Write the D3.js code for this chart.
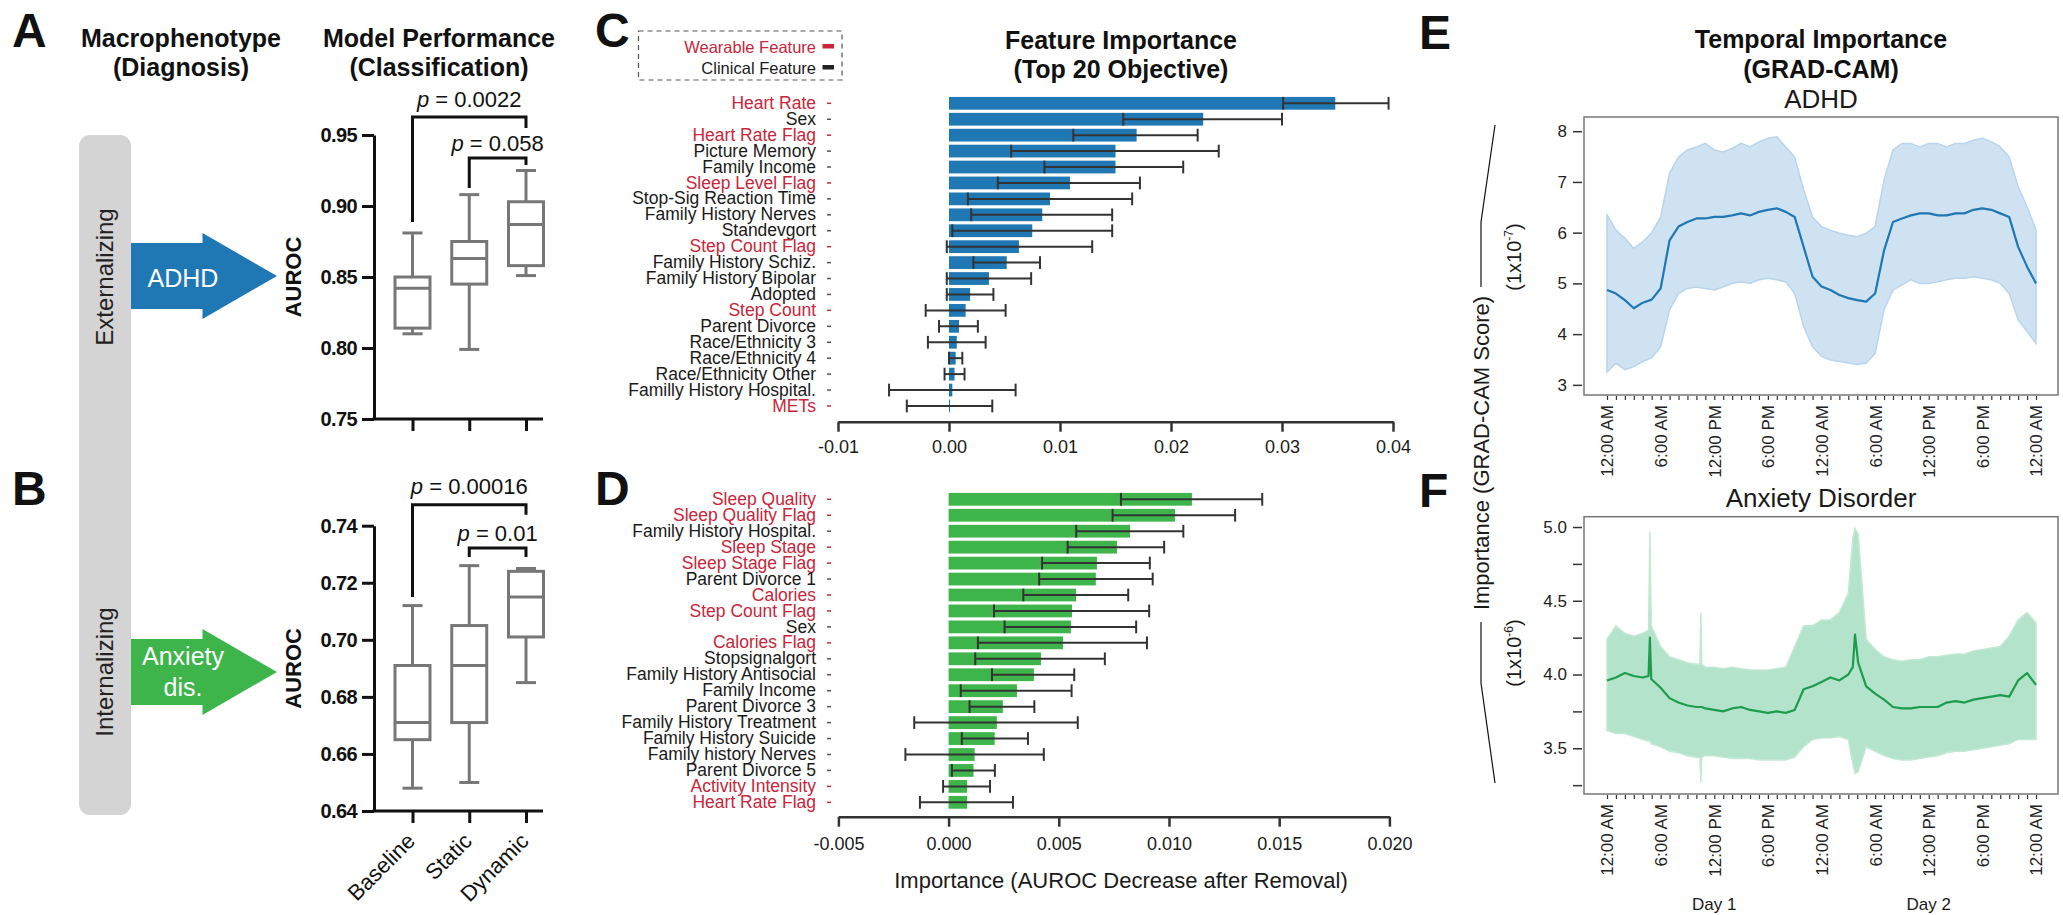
<!DOCTYPE html>
<html>
<head>
<meta charset="utf-8">
<script src="https://cdn.jsdelivr.net/npm/d3@7"></script>
<style>
body { margin: 0; background: #fff; }
svg { display: block; }
</style>
</head>
<body>
<div class="chart"></div>
<script>
// ---------- data ----------
var boxGroups = ["Baseline", "Static", "Dynamic"];
// [whisker low, q1, median, q3, whisker high]
var adhdBoxes = [[0.810, 0.814, 0.842, 0.850, 0.881],
                 [0.799, 0.845, 0.863, 0.875, 0.908],
                 [0.851, 0.858, 0.887, 0.903, 0.925]];
var anxBoxes = [[0.648, 0.665, 0.671, 0.691, 0.712],
                [0.650, 0.671, 0.691, 0.705, 0.726],
                [0.685, 0.701, 0.715, 0.724, 0.725]];
var adhdTicks = [0.75, 0.80, 0.85, 0.90, 0.95];
var anxTicks = [0.64, 0.66, 0.68, 0.70, 0.72, 0.74];
var adhdP = ["0.0022", "0.058"];
var anxP = ["0.00016", "0.01"];

var cFeatures = ["Heart Rate", "Sex", "Heart Rate Flag", "Picture Memory", "Family Income",
  "Sleep Level Flag", "Stop-Sig Reaction Time", "Family History Nerves", "Standevgort",
  "Step Count Flag", "Family History Schiz.", "Family History Bipolar", "Adopted", "Step Count",
  "Parent Divorce", "Race/Ethnicity 3", "Race/Ethnicity 4", "Race/Ethnicity Other",
  "Familly History Hospital.", "METs"];
var cWearable = [1,0,1,0,0,1,0,0,0,1,0,0,0,1,0,0,0,0,0,1];
var cImportance = [0.0348, 0.0229, 0.0169, 0.0150, 0.0150, 0.0109, 0.0091, 0.0084, 0.0075, 0.0063,
  0.0052, 0.0036, 0.0019, 0.0015, 0.0009, 0.0007, 0.0006, 0.0005, 0.0003, 0.00003];
var cLow = [0.0301, 0.0157, 0.0112, 0.0056, 0.0086, 0.0044, 0.0017, 0.0020, 0.0003, -0.0002,
  0.0022, -0.0002, -0.0002, -0.0021, -0.0009, -0.0019, 0.0000, -0.0004, -0.0054, -0.0038];
var cHigh = [0.0396, 0.0300, 0.0224, 0.0243, 0.0211, 0.0172, 0.0165, 0.0147, 0.0147, 0.0129,
  0.0082, 0.0074, 0.0040, 0.0051, 0.0026, 0.0033, 0.0012, 0.0014, 0.0060, 0.0039];
var cTicks = [-0.01, 0, 0.01, 0.02, 0.03, 0.04];

var dFeatures = ["Sleep Quality", "Sleep Quality Flag", "Family History Hospital.", "Sleep Stage",
  "Sleep Stage Flag", "Parent Divorce 1", "Calories", "Step Count Flag", "Sex", "Calories Flag",
  "Stopsignalgort", "Family History Antisocial", "Family Income", "Parent Divorce 3",
  "Family History Treatment", "Family History Suicide", "Family history Nerves",
  "Parent Divorce 5", "Activity Intensity", "Heart Rate Flag"];
var dWearable = [1,1,0,1,1,0,1,1,0,1,0,0,0,0,0,0,0,0,1,1];
var dImportance = [0.01104, 0.01027, 0.00823, 0.00764, 0.00673, 0.00668, 0.00578, 0.00560, 0.00555,
  0.00519, 0.00419, 0.00387, 0.00310, 0.00246, 0.00219, 0.00209, 0.00118, 0.00113, 0.00084, 0.00084];
var dLow = [0.00782, 0.00744, 0.00579, 0.00540, 0.00424, 0.00411, 0.00339, 0.00206, 0.00254,
  0.00133, 0.00121, 0.00197, 0.00055, 0.00095, -0.00156, 0.00060, -0.00196, 0.00015, -0.00025, -0.00130];
var dHigh = [0.01423, 0.01300, 0.01065, 0.00978, 0.00913, 0.00926, 0.00815, 0.00910, 0.00851,
  0.00900, 0.00709, 0.00570, 0.00558, 0.00389, 0.00586, 0.00360, 0.00432, 0.00210, 0.00188, 0.00292];
var dTicks = [-0.005, 0, 0.005, 0.010, 0.015, 0.020];

// GRAD-CAM, hours since midnight of day 1
var timeLabels = ["12:00 AM", "6:00 AM", "12:00 PM", "6:00 PM"];
var dayLabels = ["Day 1", "Day 2"];
var eHours = d3.range(0, 49);
var eMean = [4.87,4.80,4.67,4.51,4.62,4.68,4.90,5.85,6.12,6.21,6.28,6.28,6.31,6.31,6.34,6.38,6.34,
  6.41,6.45,6.48,6.41,6.31,5.72,5.13,4.94,4.87,4.77,4.71,4.67,4.64,4.80,5.65,6.21,6.28,6.34,6.38,
  6.38,6.34,6.34,6.38,6.38,6.45,6.48,6.45,6.38,6.31,5.72,5.33,5.00];
var eUpper = [6.35,6.05,5.89,5.69,5.82,6.00,6.31,7.17,7.49,7.63,7.69,7.76,7.63,7.59,7.66,7.76,7.69,
  7.79,7.86,7.89,7.69,7.49,6.84,6.31,6.12,6.05,5.99,5.95,5.92,5.99,6.12,7.04,7.63,7.76,7.76,7.69,
  7.76,7.76,7.69,7.76,7.76,7.82,7.86,7.79,7.69,7.49,6.91,6.51,6.05];
var eLower = [3.25,3.43,3.30,3.36,3.46,3.53,3.75,4.48,4.80,4.90,4.93,4.90,4.87,4.93,5.00,5.03,5.00,
  5.07,5.10,5.07,5.03,4.80,4.15,3.75,3.56,3.49,3.46,3.43,3.40,3.43,3.62,4.48,4.87,4.97,5.07,5.00,
  5.00,5.03,5.07,5.10,5.10,5.13,5.10,5.07,5.00,4.80,4.28,4.05,3.82];
var eTicks = [3, 4, 5, 6, 7, 8];

var fHours = [0,1,2,3,4,4.65,4.8,4.95,6,7,8,9,10,10.4,10.5,10.6,11,12,13,14,15,16,17,18,19,20,21,
  22,23,24,25,26,27,27.5,27.75,28.1,29,30,31,32,33,34,35,36,37,38,39,40,41,42,43,44,45,46,47,48];
var fMean = [3.96,3.98,4.01,3.99,3.98,3.99,4.25,3.97,3.91,3.84,3.81,3.79,3.78,3.78,3.78,3.78,
  3.77,3.76,3.75,3.77,3.78,3.76,3.75,3.74,3.75,3.74,3.76,3.90,3.92,3.95,3.98,3.96,4.00,
  4.05,4.27,4.08,
  3.92,3.87,3.83,3.78,3.77,3.77,3.78,3.78,3.78,3.81,3.82,3.81,3.83,3.84,3.85,3.86,3.85,3.96,4.01,3.93];
var fUpper = [4.24,4.33,4.28,4.26,4.28,4.30,4.97,4.33,4.19,4.12,4.10,4.08,4.07,4.07,4.42,4.07,
  4.05,4.05,4.04,4.05,4.04,4.03,4.03,4.03,4.04,4.05,4.19,4.33,4.33,4.37,4.37,4.42,4.55,
  4.92,4.99,4.95,
  4.24,4.17,4.12,4.10,4.09,4.10,4.10,4.12,4.12,4.13,4.14,4.14,4.16,4.17,4.18,4.19,4.26,4.37,4.42,4.35];
var fLower = [3.62,3.60,3.60,3.58,3.56,3.55,3.55,3.53,3.51,3.48,3.47,3.45,3.44,3.44,3.27,3.44,
  3.45,3.45,3.44,3.43,3.43,3.43,3.42,3.42,3.42,3.42,3.44,3.51,3.56,3.57,3.57,3.58,3.56,
  3.40,3.33,3.34,
  3.51,3.48,3.45,3.43,3.42,3.42,3.43,3.44,3.45,3.47,3.48,3.48,3.49,3.50,3.51,3.52,3.53,3.56,3.56,3.56];
var fTicks = [3.25, 3.5, 3.75, 4.0, 4.25, 4.5, 4.75, 5.0];

// ---------- setup ----------
var width = 2063, height = 915;
var red = "#c8263a", ink = "#111";

var svg = d3.select(".chart")
  .append("svg")
    .attr("width", width)
    .attr("height", height)
    .attr("font-family", "'Liberation Sans', Arial, Helvetica, sans-serif")
    .attr("fill", ink);

function txt(x, y, s, size, opts) {
  opts = opts || {};
  return svg.append("text")
    .attr("x", x).attr("y", y)
    .attr("font-size", size)
    .attr("font-weight", opts.bold ? "bold" : null)
    .attr("text-anchor", opts.anchor || "middle")
    .attr("fill", opts.fill || ink)
    .attr("transform", opts.rotate ? "rotate(" + opts.rotate + "," + x + "," + y + ")" : null)
    .text(s);
}

// panel letters
[["A", 12, 47], ["B", 12, 505], ["C", 595, 47], ["D", 595, 505], ["E", 1419, 49], ["F", 1419, 507]]
  .forEach(function(p) { txt(p[1], p[2], p[0], 48, {bold: true, anchor: "start"}); });

// ---------- column 1: macrophenotype ----------
txt(181, 47, "Macrophenotype", 25, {bold: true});
txt(181, 76, "(Diagnosis)", 25, {bold: true});
txt(439, 47, "Model Performance", 25, {bold: true});
txt(439, 76, "(Classification)", 25, {bold: true});

svg.append("rect")
  .attr("x", 79).attr("y", 135).attr("width", 52).attr("height", 680)
  .attr("rx", 11).attr("fill", "#d4d4d4");
txt(105, 277, "Externalizing", 24, {rotate: -90, fill: "#222"}).attr("dy", "0.35em");
txt(105, 672, "Internalizing", 24, {rotate: -90, fill: "#222"}).attr("dy", "0.35em");

function arrow(cy, color) {
  var p = d3.path();
  p.moveTo(131, cy - 33); p.lineTo(202.5, cy - 33); p.lineTo(202.5, cy - 43);
  p.lineTo(277, cy); p.lineTo(202.5, cy + 43); p.lineTo(202.5, cy + 33);
  p.lineTo(131, cy + 33); p.closePath();
  svg.append("path").attr("d", p.toString()).attr("fill", color);
}
arrow(276, "#1f77b4");
arrow(672, "#3db54a");
txt(183, 287, "ADHD", 25, {fill: "#fff"});
txt(183, 665, "Anxiety", 25, {fill: "#fff"});
txt(183, 696, "dis.", 25, {fill: "#fff"});

// ---------- box plots ----------
function boxPanel(stats, ticks, dom, top, bottom, pvals, brackets, showX) {
  var y = d3.scaleLinear().domain(dom).range([bottom, top]);
  var x = d3.scalePoint().domain(boxGroups).range([412.5, 526]);
  var g = svg.append("g");

  var box = g.selectAll(".box")
    .data(stats)
    .enter()
    .append("g")
      .attr("transform", function(d, i) { return "translate(" + x(boxGroups[i]) + ",0)"; })
      .attr("stroke", "#777")
      .attr("stroke-width", 3);
  box.append("line")
    .attr("y1", function(d) { return y(d[0]); })
    .attr("y2", function(d) { return y(d[4]); });
  box.append("line").attr("x1", -10).attr("x2", 10)
    .attr("y1", function(d) { return y(d[0]); }).attr("y2", function(d) { return y(d[0]); });
  box.append("line").attr("x1", -10).attr("x2", 10)
    .attr("y1", function(d) { return y(d[4]); }).attr("y2", function(d) { return y(d[4]); });
  box.append("rect")
    .attr("x", -17.5).attr("width", 35)
    .attr("y", function(d) { return y(d[3]); })
    .attr("height", function(d) { return y(d[1]) - y(d[3]); })
    .attr("fill", "#fff");
  box.append("line").attr("x1", -17.5).attr("x2", 17.5)
    .attr("y1", function(d) { return y(d[2]); }).attr("y2", function(d) { return y(d[2]); });

  // axes
  var ya = g.append("g")
    .attr("transform", "translate(374,0)")
    .call(d3.axisLeft(y).tickValues(ticks).tickSize(12).tickSizeOuter(0).tickPadding(5)
      .tickFormat(d3.format(".2f")));
  ya.attr("font-family", null).attr("font-size", null);
  ya.selectAll("path, line").attr("stroke", ink).attr("stroke-width", 3);
  ya.selectAll("text").attr("font-size", 20).attr("font-weight", "bold")
    .attr("letter-spacing", "-0.6").attr("fill", ink);

  var xa = g.append("g")
    .attr("transform", "translate(0," + bottom + ")")
    .call(d3.axisBottom(x).tickSize(12).tickFormat(function(d) { return showX ? d : ""; }));
  xa.attr("font-family", null).attr("font-size", null);
  xa.select(".domain").remove();
  xa.selectAll("line").attr("stroke", ink).attr("stroke-width", 3);
  xa.append("line").attr("x1", 372.5).attr("x2", 543)
    .attr("stroke", ink).attr("stroke-width", 3);
  xa.selectAll("text")
    .attr("font-size", 22).attr("fill", ink)
    .attr("y", 0).attr("dy", "0.35em")
    .attr("text-anchor", "end")
    .attr("transform", "translate(-2,26) rotate(-45)");

  txt(293, (top + bottom) / 2, "AUROC", 22, {bold: true, rotate: -90}).attr("dy", "0.35em");

  // significance brackets
  brackets.forEach(function(b, i) {
    var x1 = x(b[0]), x2 = x(b[1]);
    g.append("path")
      .attr("d", "M" + x1 + "," + y(b[3]) + "V" + y(b[2]) + "H" + x2 + "V" + y(b[4]))
      .attr("fill", "none").attr("stroke", ink).attr("stroke-width", 3);
    var t = g.append("text")
      .attr("x", (x1 + x2) / 2).attr("y", y(b[2]) - b[5])
      .attr("text-anchor", "middle").attr("font-size", 22);
    t.append("tspan").attr("font-style", "italic").text("p");
    t.append("tspan").text(" = " + pvals[i]);
  });
}

boxPanel(adhdBoxes, adhdTicks, [0.75, 0.95], 135, 419, adhdP,
  [["Baseline", "Dynamic", 0.9627, 0.8887, 0.9549, 10],
   ["Static", "Dynamic", 0.9338, 0.9127, 0.9289, 7]], false);
boxPanel(anxBoxes, anxTicks, [0.64, 0.74], 525.7, 811, anxP,
  [["Baseline", "Dynamic", 0.7473, 0.7150, 0.7438, 11],
   ["Static", "Dynamic", 0.7322, 0.7290, 0.7290, 7]], true);

// ---------- feature importance bars ----------
function barPanel(feats, wear, imp, lo, hi, color, xDom, xRange, yTop, step, axisY, ticks, fmt, pad) {
  var x = d3.scaleLinear().domain(xDom).range(xRange);
  var y = d3.scaleBand().domain(feats)
    .range([yTop - step / 2, yTop - step / 2 + step * feats.length])
    .paddingInner(0.2).paddingOuter(0.1);
  var g = svg.append("g");
  var bh = y.bandwidth();

  g.selectAll(".bar")
    .data(feats)
    .enter()
    .append("rect")
      .attr("x", x(0))
      .attr("y", function(d) { return y(d); })
      .attr("width", function(d, i) { return Math.max(1, x(imp[i]) - x(0)); })
      .attr("height", bh)
      .attr("fill", color);

  var eb = g.selectAll(".err")
    .data(feats)
    .enter()
    .append("g")
      .attr("transform", function(d) { return "translate(0," + (y(d) + bh / 2) + ")"; })
      .attr("stroke", "#333")
      .attr("stroke-width", 2);
  eb.append("line")
    .attr("x1", function(d, i) { return x(lo[i]); })
    .attr("x2", function(d, i) { return x(hi[i]); });
  eb.append("line")
    .attr("x1", function(d, i) { return x(lo[i]); }).attr("x2", function(d, i) { return x(lo[i]); })
    .attr("y1", -bh / 2).attr("y2", bh / 2);
  eb.append("line")
    .attr("x1", function(d, i) { return x(hi[i]); }).attr("x2", function(d, i) { return x(hi[i]); })
    .attr("y1", -bh / 2).attr("y2", bh / 2);

  var ya = g.append("g")
    .attr("transform", "translate(831,0)")
    .call(d3.axisLeft(y).tickSize(4).tickPadding(11));
  ya.attr("font-family", null).attr("font-size", null);
  ya.select(".domain").remove();
  ya.selectAll(".tick").each(function(d, i) {
    d3.select(this).select("line").attr("stroke", wear[i] ? red : "#555").attr("stroke-width", 1.5);
    d3.select(this).select("text").attr("fill", wear[i] ? red : "#1a1a1a").attr("font-size", 17.5);
  });

  var xa = g.append("g")
    .attr("transform", "translate(0," + axisY + ")")
    .call(d3.axisBottom(x).tickValues(ticks).tickSize(10).tickSizeOuter(0).tickPadding(pad)
      .tickFormat(fmt));
  xa.attr("font-family", null).attr("font-size", null);
  xa.selectAll("path, line").attr("stroke", "#333").attr("stroke-width", 2.5);
  xa.selectAll("text").attr("font-size", 18).attr("fill", "#1a1a1a");
}

barPanel(cFeatures, cWearable, cImportance, cLow, cHigh, "#1f77b4",
  [-0.01, 0.04], [838, 1393], 103.3, 15.93, 421.7, cTicks,
  function(d) { return d.toFixed(2); }, 9);
barPanel(dFeatures, dWearable, dImportance, dLow, dHigh, "#3db54a",
  [-0.005, 0.020], [838.4, 1389.4], 499.3, 15.95, 816.7, dTicks,
  function(d) { return d.toFixed(3); }, 11);

txt(1121, 49, "Feature Importance", 25, {bold: true});
txt(1121, 78, "(Top 20 Objective)", 25, {bold: true});
txt(1121, 888, "Importance (AUROC Decrease after Removal)", 22, {fill: "#1a1a1a"});

// legend
svg.append("rect")
  .attr("x", 638.5).attr("y", 31).attr("width", 203.5).attr("height", 49)
  .attr("fill", "none").attr("stroke", "#555").attr("stroke-width", 1.2)
  .attr("stroke-dasharray", "5,4");
txt(816, 53, "Wearable Feature", 16.5, {anchor: "end", fill: red});
txt(816, 74, "Clinical Feature", 16.5, {anchor: "end", fill: "#1a1a1a"});
svg.append("rect").attr("x", 822.5).attr("y", 44).attr("width", 11.5).attr("height", 4.5).attr("fill", red);
svg.append("rect").attr("x", 822.5).attr("y", 65).attr("width", 11.5).attr("height", 4.5).attr("fill", "#222");

// ---------- temporal importance ----------
function timePanel(hours, mean, upper, lower, yDom, top, bottom, ticks, fmtY, bandFill, bandStroke, lineColor) {
  var left = 1584, right = 2058;
  var x = d3.scaleLinear().domain([0, 48]).range([1607, 2036]);
  var y = d3.scaleLinear().domain(yDom).range([bottom, top]);
  var g = svg.append("g");

  var area = d3.area()
    .x(function(d, i) { return x(hours[i]); })
    .y0(function(d, i) { return y(lower[i]); })
    .y1(function(d, i) { return y(upper[i]); });
  g.append("path")
    .datum(mean)
    .attr("d", area)
    .attr("fill", bandFill)
    .attr("stroke", bandStroke)
    .attr("stroke-width", 1.5);

  var line = d3.line()
    .x(function(d, i) { return x(hours[i]); })
    .y(function(d) { return y(d); });
  g.append("path")
    .datum(mean)
    .attr("d", line)
    .attr("fill", "none")
    .attr("stroke", lineColor)
    .attr("stroke-width", 2.2)
    .attr("stroke-linejoin", "round");

  g.append("rect")
    .attr("x", left).attr("y", top).attr("width", right - left).attr("height", bottom - top)
    .attr("fill", "none").attr("stroke", "#777").attr("stroke-width", 1.5);

  var ya = g.append("g")
    .attr("transform", "translate(" + (left - 2) + ",0)")
    .call(d3.axisLeft(y).tickValues(ticks).tickSize(9).tickPadding(6).tickFormat(fmtY));
  ya.attr("font-family", null).attr("font-size", null);
  ya.select(".domain").remove();
  ya.selectAll("line").attr("stroke", "#333").attr("stroke-width", 1.5);
  ya.selectAll("text").attr("font-size", 17).attr("fill", "#222");

  // hourly ticks, labels every 6 hours
  var xa = g.append("g")
    .attr("transform", "translate(0," + (bottom + 1) + ")")
    .call(d3.axisBottom(x).tickValues(d3.range(0, 49)).tickSize(4)
      .tickFormat(function(d) { return d % 6 === 0 ? timeLabels[(d / 6) % 4] : ""; }));
  xa.attr("font-family", null).attr("font-size", null);
  xa.select(".domain").remove();
  xa.selectAll("line").attr("stroke", "#333").attr("stroke-width", 1.2);
  xa.selectAll("text")
    .attr("font-size", 17).attr("fill", "#222")
    .attr("transform", "rotate(-90)")
    .attr("x", -9).attr("y", 0).attr("dy", "0.35em")
    .attr("text-anchor", "end");
  return x;
}

timePanel(eHours, eMean, eUpper, eLower, [2.8, 8.28], 117, 395, eTicks,
  function(d) { return d; }, "#cfe2f1", "#b8d5eb", "#1f77b4");
var fx = timePanel(fHours, fMean, fUpper, fLower, [3.19, 5.07], 516.7, 794, fTicks,
  function(d) { return Math.round(d * 4) % 2 === 0 ? d.toFixed(1) : ""; },
  "#b3e3ca", "#c3e9d5", "#1c9c4c");

txt(1821, 48, "Temporal Importance", 25, {bold: true});
txt(1821, 78, "(GRAD-CAM)", 25, {bold: true});
txt(1821, 108, "ADHD", 26, {fill: "#1a1a1a"});
txt(1821, 507, "Anxiety Disorder", 26, {fill: "#1a1a1a"});
dayLabels.forEach(function(d, i) { txt(fx(12 + 24 * i), 910, d, 17, {fill: "#1a1a1a"}); });

txt(1481, 453, "Importance (GRAD-CAM Score)", 22, {rotate: -90, fill: "#1a1a1a"}).attr("dy", "0.35em");
svg.append("path").attr("d", "M1481,287V222L1495,125M1481,622V683L1495,783")
  .attr("fill", "none").attr("stroke", ink).attr("stroke-width", 1.2);

function sciLabel(cy, exp) {
  var t = txt(1514, cy, "", 20, {rotate: -90, fill: "#1a1a1a"}).attr("dy", "0.35em");
  t.append("tspan").text("(1x10");
  t.append("tspan").attr("font-size", 12).attr("dy", -8).text(exp);
  t.append("tspan").attr("dy", 8).text(")");
}
sciLabel(257, "-7");
sciLabel(653, "-6");
</script>
</body>
</html>
